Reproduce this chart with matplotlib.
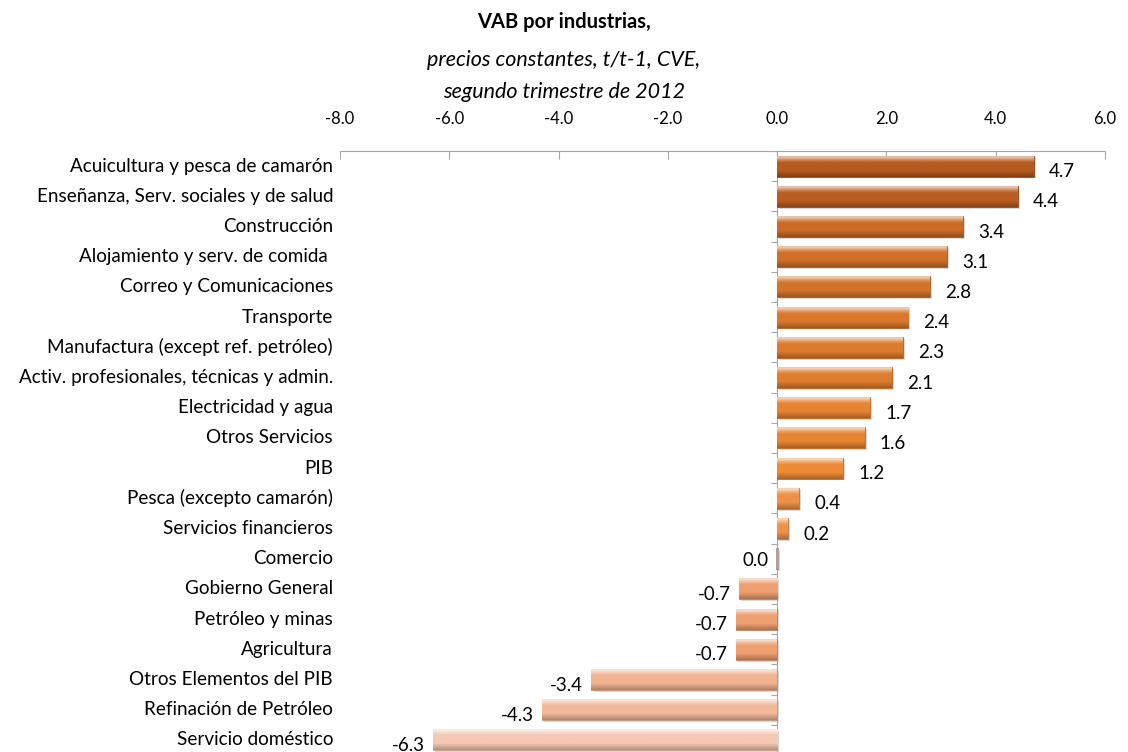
import numpy as np
import matplotlib
matplotlib.use("Agg")
import matplotlib.pyplot as plt
from matplotlib.colors import to_rgb
from matplotlib.transforms import blended_transform_factory

plt.rcParams['font.family'] = ['Lato', 'DejaVu Sans']

categories = [
    "Acuicultura y pesca de camarón",
    "Enseñanza, Serv. sociales y de salud",
    "Construcción",
    "Alojamiento y serv. de comida ",
    "Correo y Comunicaciones",
    "Transporte",
    "Manufactura (except ref. petróleo)",
    "Activ. profesionales, técnicas y admin.",
    "Electricidad y agua",
    "Otros Servicios",
    "PIB",
    "Pesca (excepto camarón)",
    "Servicios financieros",
    "Comercio",
    "Gobierno General",
    "Petróleo y minas",
    "Agricultura",
    "Otros Elementos del PIB",
    "Refinación de Petróleo",
    "Servicio doméstico",
]
values = [4.7, 4.4, 3.4, 3.1, 2.8, 2.4, 2.3, 2.1, 1.7, 1.6, 1.2, 0.4, 0.2, 0.0,
          -0.7, -0.75, -0.75, -3.4, -4.3, -6.3]
labels = ["4.7", "4.4", "3.4", "3.1", "2.8", "2.4", "2.3", "2.1", "1.7", "1.6", "1.2",
          "0.4", "0.2", "0.0", "-0.7", "-0.7", "-0.7", "-3.4", "-4.3", "-6.3"]
xticks = [-8, -6, -4, -2, 0, 2, 4, 6]

# colour anchors by value (style)
anchor_v = [-6.3, -0.7, 0.0, 1.2, 4.7]
anchor_c = [to_rgb("#F4C8B2"), to_rgb("#EE9F70"), to_rgb("#EE9550"),
            to_rgb("#EE8A35"), to_rgb("#B65A1E")]

def color_for(v):
    arr = np.array(anchor_c)
    return np.array([np.interp(v, anchor_v, arr[:, k]) for k in range(3)])

fig = plt.figure(figsize=(11.28, 7.52), dpi=100)
ax = fig.add_axes([340 / 1128, -3 / 752, 765 / 1128, 604 / 752])

h = 0.7
n = 60
t = np.linspace(0, 1, n)
for i, v in enumerate(values):
    base = color_for(v)
    img = np.zeros((n, 1, 3))
    for j, tt in enumerate(t):
        if tt < 0.06:
            c = base + (1 - base) * 0.45
        elif tt < 0.35:
            c = base + (1 - base) * 0.75 * (1 - (tt - 0.06) / 0.29) ** 1.2
        elif tt < 0.7:
            c = base
        else:
            c = base * (1 - 0.28 * (tt - 0.7) / 0.3)
        img[j, 0, :] = np.clip(c, 0, 1)
    x0, x1 = min(0, v), max(0, v)
    if x1 - x0 < 1e-9:
        x0, x1 = -0.02, 0.02
        img[:, 0, :] = np.array(to_rgb("#B0A098"))
    bar = ax.barh(i, x1 - x0, left=x0, height=h, color=base,
                  edgecolor=tuple(base * 0.8), linewidth=0.6, zorder=2)[0]
    im = ax.imshow(img, extent=(x0, x1, i + h / 2, i - h / 2), aspect='auto',
                   zorder=3, interpolation='bilinear')
    im.set_clip_path(bar)
    # shadow
    ax.barh(i + 0.06, x1 - x0, left=x0 + 0.04, height=h, color='#b5b5b5',
            alpha=0.5, zorder=1, linewidth=0)
    if v > 0:
        ax.annotate(labels[i], (v, i), xytext=(11, -4), textcoords='offset points',
                    ha='left', va='center', fontsize=13.5)
    else:
        ax.annotate(labels[i], (v, i), xytext=(-6, -1 if v == 0 else -4),
                    textcoords='offset points',
                    ha='right', va='center', fontsize=13.5)

ax.set_xlim(-8, 6)
ax.set_ylim(len(categories) - 0.5, -0.5)

# category labels
tr = blended_transform_factory(ax.transAxes, ax.transData)
for i, c in enumerate(categories):
    ax.text(-0.009, i, c, transform=tr, ha='right', va='center', fontsize=13.6)

# axes styling
for s in ['right', 'bottom']:
    ax.spines[s].set_visible(False)
ax.spines['top'].set_color('#A6A6A6')
ax.spines['left'].set_position(('data', 0))
ax.spines['left'].set_color('#A6A6A6')
ax.spines['left'].set_zorder(0.5)
ax.xaxis.tick_top()
ax.set_xticks(xticks)
ax.set_xticklabels([f"{x:.1f}" for x in xticks], fontsize=12)
ax.tick_params(axis='x', direction='in', length=6, color='#A6A6A6', pad=17)
ax.set_yticks([i + 0.5 for i in range(len(categories) - 1)] + [-0.5])
ax.set_yticklabels([])
ax.tick_params(axis='y', direction='out', length=4, color='#A6A6A6')

fig.text(0.5, 1 - 22 / 752, "VAB por industrias,", ha='center', va='center',
         fontsize=14.5, fontweight='bold')
fig.text(0.5, 1 - 60 / 752, "precios constantes, t/t-1, CVE,", ha='center', va='center',
         fontsize=15.5, style='italic')
fig.text(0.5, 1 - 92 / 752, "segundo trimestre de 2012", ha='center', va='center',
         fontsize=15.5, style='italic')

fig.savefig("out.png", dpi=100)
